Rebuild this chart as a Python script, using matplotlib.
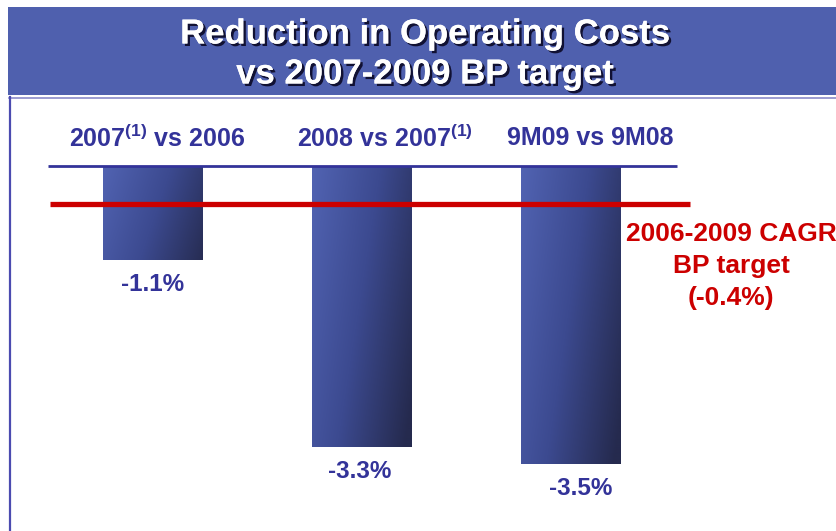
import matplotlib
matplotlib.use("Agg")
import matplotlib.pyplot as plt
import matplotlib.patheffects as pe
from matplotlib.colors import LinearSegmentedColormap
import numpy as np

# ---------------------------------- data ----------------------------------
categories = ["2007$^{(1)}$ vs 2006", "2008 vs 2007$^{(1)}$", "9M09 vs 9M08"]
values = [-1.1, -3.3, -3.5]
value_labels = ["-1.1%", "-3.3%", "-3.5%"]
target_level = -0.44          # where the red target line sits in the picture
target_label = "2006-2009 CAGR\nBP target\n(-0.4%)"
title = "Reduction in Operating Costs\nvs 2007-2009 BP target"

# ---------------------------------- style ---------------------------------
plt.rcParams["font.family"] = ["Liberation Sans", "DejaVu Sans"]
plt.rcParams["mathtext.fontset"] = "custom"
plt.rcParams["mathtext.rm"] = "Liberation Sans:bold"
plt.rcParams["mathtext.it"] = "Liberation Sans:bold"
plt.rcParams["mathtext.bf"] = "Liberation Sans:bold"

navy = "#333399"
red = "#CC0000"
band = "#4F60AE"

W, H = 837, 531
fig = plt.figure(figsize=(W / 100, H / 100), dpi=100)
fig.patch.set_facecolor("white")

# header band and frame (figure pixel fractions)
fig.patches.append(plt.Rectangle((8 / W, 1 - 95 / H), 1, 88 / H, transform=fig.transFigure,
                                 facecolor=band, edgecolor="none"))
fig.lines.append(plt.Line2D([9 / W, 1], [1 - 98 / H] * 2, transform=fig.transFigure,
                            color="#8A8AC8", lw=1.2))
fig.lines.append(plt.Line2D([9.5 / W] * 2, [0, 1 - 97 / H], transform=fig.transFigure,
                            color="#4B4BB0", lw=1.6))

fig.text(425 / W, 1 - 54 / H, title, ha="center", va="center", color="white",
         fontsize=25, fontweight="bold", linespacing=1.27,
         path_effects=[pe.withSimplePatchShadow(offset=(1.8, -1.8), shadow_rgbFace="#111133", alpha=1),
                       pe.Normal()])

# axes: y=0 at pixel 167 from top, 85 px per 1%; bars 209 px apart, first centred at 153 px
ax = fig.add_axes([0, 0, 1, 1])
ax.set_xlim(-153 / 209, (W - 153) / 209)
ax.set_ylim(-(H - 167) / 85, 167 / 85)
ax.axis("off")

x = np.arange(len(values))
bars = ax.bar(x, values, width=100 / 209, color="none", edgecolor="none", zorder=2)

cmap = LinearSegmentedColormap.from_list("barfade", ["#5163B2", "#3C4A90", "#252A4E"])
gy, gx = np.mgrid[0:1:200j, 0:1:100j]
for b in bars:
    x0, y0 = b.get_x(), b.get_y()
    w, h = b.get_width(), b.get_height()
    grad = 0.8 * gx + 0.35 * gy * min(1, abs(h) / 1.5)
    im = ax.imshow(grad, cmap=cmap, vmin=0, vmax=1.1, aspect="auto", origin="upper",
                   extent=(x0, x0 + w, y0 + h, y0), zorder=2, interpolation="bilinear")
    im.set_clip_path(b)

# zero line and target line
ax.hlines(0.01, -105 / 209, 524 / 209, color=navy, lw=2.0, zorder=3)
ax.hlines(target_level, -103 / 209, 537 / 209, color=red, lw=3.8, zorder=4)

# category labels above the zero line
label_x = [157, 385, 590]
for xi, cat in zip(label_x, categories):
    ax.text((xi - 153) / 209, 29 / 85, cat, ha="center", va="center", color=navy,
            fontsize=18, fontweight="bold")

# value labels under each bar
dx = [0, -2, 10]
for xi, v, lab, d in zip(x, values, value_labels, dx):
    ax.annotate(lab, (xi, v), xytext=(d * 0.72, -17), textcoords="offset points",
                ha="center", va="center", color=navy, fontsize=17.5, fontweight="bold")

# target annotation
ax.text((731 - 153) / 209, -(266 - 167) / 85, target_label, ha="center", va="center",
        color=red, fontsize=19, fontweight="bold", linespacing=1.42)

fig.savefig("out.png", dpi=100)
